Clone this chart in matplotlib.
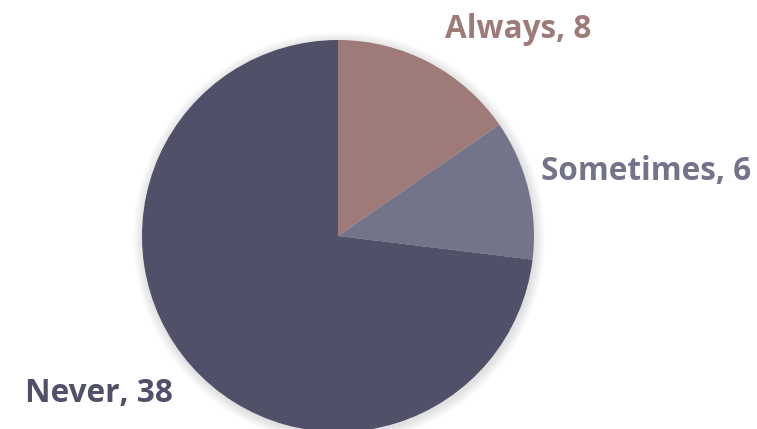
import matplotlib.pyplot as plt
from matplotlib.patches import Circle

labels = ['Always', 'Sometimes', 'Never']
values = [8, 6, 38]
colors = ['#9E7B79', '#737489', '#505068']

W, H = 757, 429
fig = plt.figure(figsize=(W / 100, H / 100), dpi=100)
ax = fig.add_axes([0, 0, 1, 1])

cx, cy, r = 338, H - 236, 196

# soft shadow around the pie
for i in range(10, 0, -1):
    ax.add_patch(Circle((cx + 1, cy - 2), r + i, color='#000000', alpha=0.012, lw=0, zorder=0))

ax.pie(values, colors=colors, startangle=90, counterclock=False,
       center=(cx, cy), radius=r, frame=True,
       wedgeprops=dict(linewidth=0))
ax.set_xlim(0, W)
ax.set_ylim(0, H)
ax.set_aspect('equal')
ax.axis('off')

label_pos = [(445, H - 30), (541, H - 172), (25, H - 393)]
for lab, v, c, (x, y) in zip(labels, values, colors, label_pos):
    ax.text(x, y, f'{lab}, {v}', color=c, fontsize=22.7, fontweight='bold',
            family='Open Sans', ha='left', va='center')

fig.savefig('out.png', dpi=100)
